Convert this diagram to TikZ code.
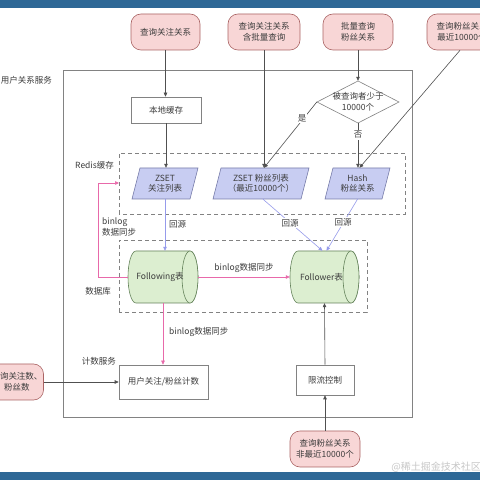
\documentclass[tikz,border=0pt]{standalone}
\usepackage{fontspec}
\setmainfont{Noto Sans CJK SC}
\usetikzlibrary{arrows.meta,calc}
\definecolor{barblue}{RGB}{46,104,150}
\definecolor{pillfill}{RGB}{248,214,214}
\definecolor{pilldraw}{RGB}{170,100,100}
\definecolor{parafill}{RGB}{200,205,242}
\definecolor{paradraw}{RGB}{120,125,170}
\definecolor{cylfill}{RGB}{220,238,208}
\definecolor{cyldraw}{RGB}{100,130,90}
\definecolor{linegray}{RGB}{80,80,80}
\definecolor{boxgray}{RGB}{130,130,130}
\definecolor{srcblue}{RGB}{150,155,235}
\definecolor{binpink}{RGB}{232,105,170}
\definecolor{txt}{RGB}{60,60,60}
\definecolor{wmark}{RGB}{200,200,200}
\begin{document}
\begin{tikzpicture}[x=1pt,y=1pt,
  font=\fontsize{8.5}{10.5}\selectfont, text=txt,
  pill/.style={draw=pilldraw, fill=pillfill, rounded corners=10pt, minimum height=36pt, align=center, inner sep=1pt, line width=0.6pt},
  plainbox/.style={draw=boxgray, fill=white, align=center, inner sep=1pt, line width=0.6pt},
  ghost/.style={inner sep=0pt, align=center},
  parashape/.style={draw=paradraw, fill=parafill, line width=0.6pt},
  cylshape/.style={draw=cyldraw, fill=cylfill, line width=0.6pt},
  dashbox/.style={draw=boxgray, dash pattern=on 4pt off 3pt, line width=0.6pt},
  lbl/.style={inner sep=1pt, align=left},
  onlbl/.style={inner sep=1pt, fill=white},
  arr/.style={-{Triangle[length=4pt,width=3.5pt]}, draw=linegray, line width=0.6pt},
  src/.style={arr, draw=srcblue},
  bin/.style={arr, draw=binpink}
]
\useasboundingbox (0,0) rectangle (480,480);
\clip (0,0) rectangle (480,480);
\fill[white] (0,0) rectangle (480,480);
\fill[barblue] (0,472) rectangle (480,480);
\fill[barblue] (0,0) rectangle (480,8);

% outer service box
\draw[draw=boxgray, line width=0.7pt] (63,63) rectangle (412,410);
\node[lbl, anchor=east] (svc) at (53,400) {用户关系服务};

% dashed groups
\draw[dashbox] (119,266) rectangle (405,327);
\node[lbl, anchor=east] (redislbl) at (115,315) {Redis缓存};
\draw[dashbox] (119,168) rectangle (367,240);
\node[lbl, anchor=east] (dblbl) at (112,189) {数据库};
\node[lbl, anchor=east] (cntlbl) at (117,119) {计数服务};

% top pills
\node[pill, minimum width=69pt] (p1) at (165.5,448) {查询关注关系};
\node[pill, minimum width=72pt] (p2) at (264,448) {查询关注关系\\含批量查询};
\node[pill, minimum width=70pt] (p3) at (358,448) {批量查询\\粉丝关系};
\node[pill, minimum width=70pt] (p4) at (462,448) {查询粉丝关系\\最近10000个};
\node[pill, minimum width=52pt] (pl) at (17,98) {查询关注数、\\粉丝数};
\node[pill, minimum width=70pt] (pb) at (325,31) {查询粉丝关系\\非最近10000个};

% boxes
\node[plainbox, minimum width=70pt, minimum height=26pt] (cache) at (166,370) {本地缓存};
\node[plainbox, minimum width=89pt, minimum height=34pt] (count) at (163.5,98) {用户关注/粉丝计数};
\node[plainbox, minimum width=58pt, minimum height=30pt] (limit) at (325,100) {限流控制};

% diamond
\draw[draw=boxgray, fill=white, line width=0.6pt] (317,378) -- (358,399) -- (399,378) -- (358,357) -- cycle;
\node[ghost, minimum width=82pt, minimum height=42pt] (dia) at (358,378) {被查询者少于\\10000个};

% parallelograms
\draw[parashape] (132,281) -- (190,281) -- (198,312) -- (140,312) -- cycle;
\node[ghost, minimum width=66pt, minimum height=31pt] (z1) at (165,296.5) {ZSET\\关注列表};
\draw[parashape] (213,281) -- (301,281) -- (309,312) -- (221,312) -- cycle;
\node[ghost, minimum width=96pt, minimum height=31pt] (z2) at (261,296.5) {ZSET 粉丝列表\\（最近10000个）};
\draw[parashape] (325,281) -- (382,281) -- (390,312) -- (333,312) -- cycle;
\node[ghost, minimum width=65pt, minimum height=31pt] (hs) at (357.5,296.5) {Hash\\粉丝关系};

% cylinders
\draw[cylshape] (136,229) -- (190,229) arc[start angle=90, end angle=-90, x radius=8, y radius=26] -- (136,177) arc[start angle=270, end angle=90, x radius=8, y radius=26] -- cycle;
\draw[cylshape] (190,203) ellipse[x radius=8, y radius=26];
\node[ghost, minimum width=70pt, minimum height=52pt] (fing) at (163,203) {\hspace*{-6pt}Following表};
\draw[cylshape] (298,229) -- (351,229) arc[start angle=90, end angle=-90, x radius=8, y radius=26] -- (298,177) arc[start angle=270, end angle=90, x radius=8, y radius=26] -- cycle;
\draw[cylshape] (351,203) ellipse[x radius=8, y radius=26];
\node[ghost, minimum width=69pt, minimum height=52pt] (fer) at (324.5,203) {\hspace*{-6pt}Follower表};

% gray connectors
\draw[arr] (p1.south) -- (p1.south |- cache.north);
\draw[arr] (cache.south) -- (cache.south |- z1.north);
\draw[arr] (p2.south) -- (p2.south |- z2.north);
\draw[arr] (p3.south) -- (dia.north);
\draw[arr] (dia.west) -- (p2.south |- z2.north);
\draw[arr] (dia.south) -- (dia.south |- hs.north);
\draw[arr] ($(p4.south)+(-2,0)$) -- ($(hs.north)+(2,0)$);
\draw[arr] (pl.east) -- (count.west);
\draw[arr] (pb.north) -- (limit.south);
\draw[arr] (limit.north) -- (fer.south);
\node[onlbl] (yes) at (302,362) {是};
\node[onlbl] (no) at (358,345) {否};

% source-back connectors
\draw[src] (z1.south) -- (z1.south |- fing.north);
\draw[src] ($(z2.south)+(2,0)$) -- ($(fer.north)+(-2,0)$);
\draw[src] ($(hs.south)+(0,0)$) -- ($(fer.north)+(2,0)$);
\node[lbl, anchor=west] (hy1) at (168,256) {回源};
\node[onlbl] (hy2) at (290,257) {回源};
\node[onlbl] (hy3) at (343,258) {回源};

% binlog connectors
\coordinate (bl1) at (98,203);
\coordinate (bl2) at (98,297);
\draw[bin] (fing.west) -- (bl1) -- (bl2) -- (bl2 -| 119,0);
\node[lbl, anchor=west] (bt1) at (101,253) {binlog\\数据同步};
\draw[bin] (fing.east) -- (fer.west);
\node[lbl] (bt2) at (244,212) {binlog数据同步};
\draw[bin] (fing.south) -- (fing.south |- count.north);
\node[lbl, anchor=west] (bt3) at (168,148) {binlog数据同步};

% watermark
\node[lbl, text=wmark, anchor=east, font=\fontsize{10}{12}\selectfont] (wm) at (482,13) {@稀土掘金技术社区};
\end{tikzpicture}
\end{document}
